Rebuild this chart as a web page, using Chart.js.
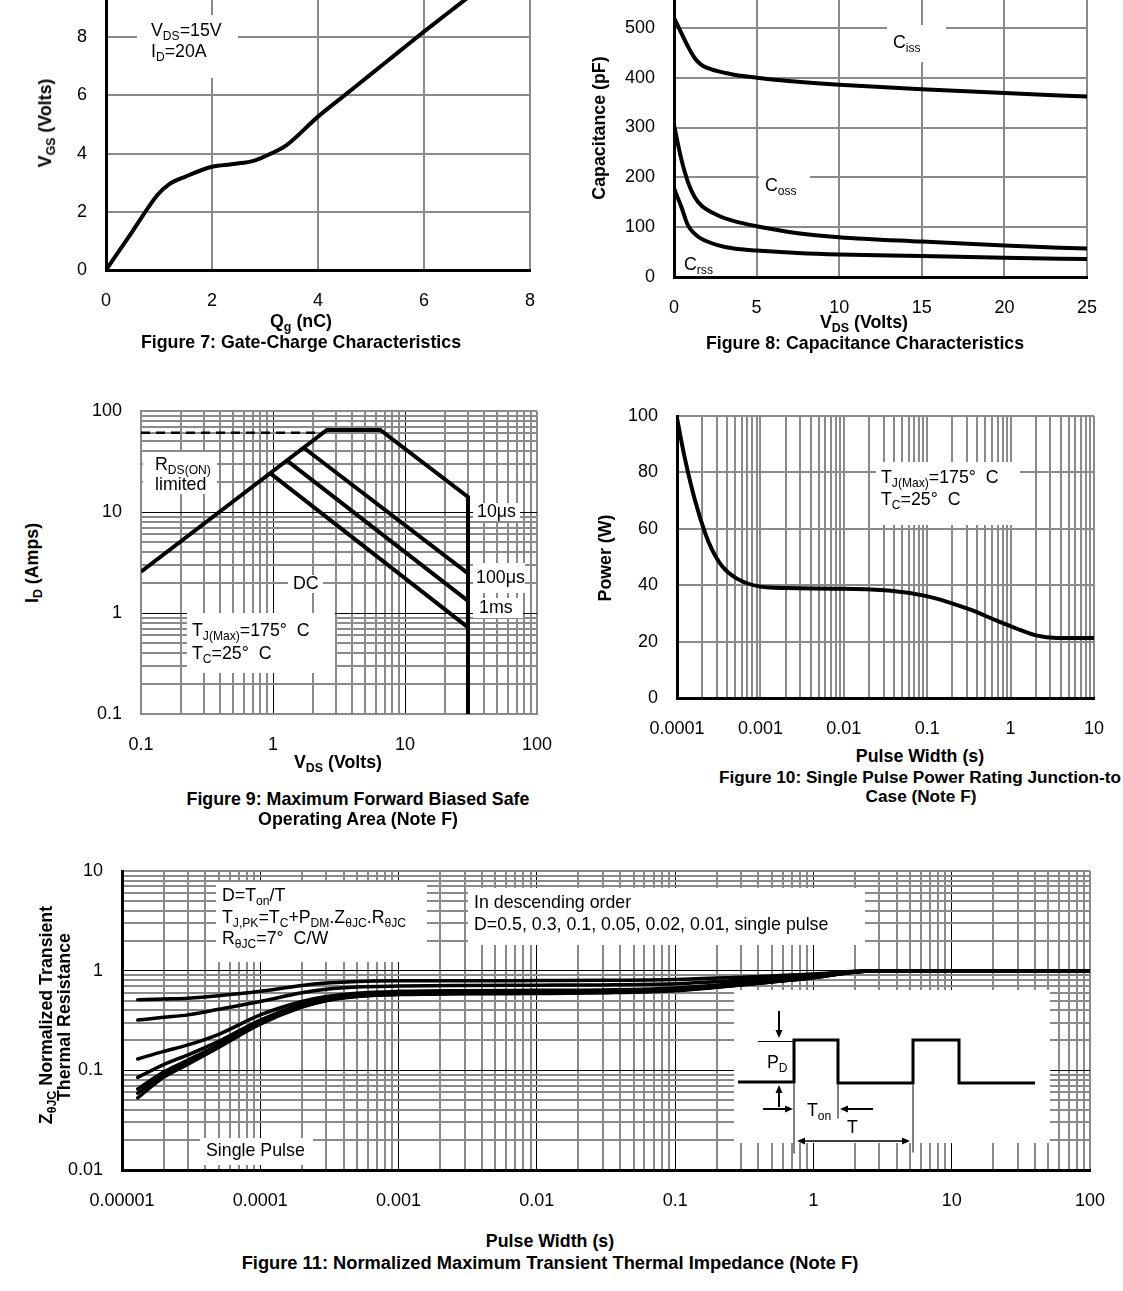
<!DOCTYPE html>
<html>
<head>
<meta charset="utf-8">
<script src="https://cdn.jsdelivr.net/npm/chart.js@4.4.1/dist/chart.umd.min.js"></script>
<style>
  body { margin: 0; background: #fff; }
  #page { position: relative; width: 1123px; height: 1291px; overflow: hidden; background: #fff;
          font-family: "Liberation Sans", Arial, Helvetica, sans-serif; color: #000; }
  canvas { position: absolute; }
  .ttl { position: absolute; transform: translate(-50%, -50%); font-weight: bold; font-size: 17.8px; white-space: nowrap; line-height: 1; }
  .rot { position: absolute; transform: translate(-50%, -50%) rotate(-90deg); font-weight: bold; font-size: 17.8px; white-space: nowrap; line-height: 1; }
  sub { font-size: 70%; line-height: 0; vertical-align: -0.3em; }
</style>
</head>
<body>
<div id="page">
  <canvas id="fig7"></canvas>
  <canvas id="fig8"></canvas>
  <canvas id="fig9"></canvas>
  <canvas id="fig10"></canvas>
  <canvas id="fig11"></canvas>

  <div class="ttl" style="left:301px;top:322px">Q<sub>g</sub> (nC)</div>
  <div class="rot" style="left:46px;top:123px">V<sub>GS</sub> (Volts)</div>
  <div class="ttl" style="left:301px;top:343px">Figure 7: Gate-Charge Characteristics</div>

  <div class="ttl" style="left:864px;top:323px">V<sub>DS</sub> (Volts)</div>
  <div class="rot" style="left:600px;top:128px">Capacitance (pF)</div>
  <div class="ttl" style="left:865px;top:344px">Figure 8: Capacitance Characteristics</div>

  <div class="ttl" style="left:338px;top:763px">V<sub>DS</sub> (Volts)</div>
  <div class="rot" style="left:33px;top:563px">I<sub>D</sub> (Amps)</div>
  <div class="ttl" style="left:358px;top:800px">Figure 9: Maximum Forward Biased Safe</div>
  <div class="ttl" style="left:358px;top:820px">Operating Area (Note F)</div>

  <div class="rot" style="left:606px;top:558px">Power (W)</div>
  <div class="ttl" style="left:920px;top:757px">Pulse Width (s)</div>
  <div class="ttl" style="left:920px;top:778px;font-size:17.2px">Figure 10: Single Pulse Power Rating Junction-to</div>
  <div class="ttl" style="left:921px;top:797px;font-size:17.2px">Case (Note F)</div>

  <div class="rot" style="left:47px;top:1015px">Z<sub>θJC</sub> Normalized Transient</div>
  <div class="rot" style="left:65px;top:1017px">Thermal Resistance</div>
  <div class="ttl" style="left:550px;top:1242px">Pulse Width (s)</div>
  <div class="ttl" style="left:550px;top:1263px;font-size:18.3px">Figure 11: Normalized Maximum Transient Thermal Impedance (Note F)</div>
</div>

<script>
// ---- data ----
// Figure 7: gate charge
const gateQg  = [0, 0.5, 0.97, 1.17, 1.5, 2.0, 2.4, 2.8, 3.1, 3.4, 4.0, 4.5, 5.0, 5.5, 6.0, 6.5, 7.0, 7.3];
const gateVgs = [0, 1.33, 2.58, 2.92, 3.21, 3.55, 3.64, 3.76, 3.99, 4.28, 5.27, 6.0, 6.73, 7.46, 8.19, 8.9, 9.6, 10];

// Figure 8: capacitance
const capVds  = [0, 0.44, 0.84, 1.24, 1.64, 2.64, 3.64, 5, 7.5, 10, 15, 20, 25];
const capCiss = [520, 490, 463, 440, 426, 413, 406, 400, 392, 386, 377, 369, 362];
const capCoss = [305, 237, 191, 161, 144, 124, 112, 102, 88, 80, 71, 63, 57];
const capCrss = [178, 141, 104, 87, 77, 64, 57, 53, 48, 45, 42, 38.5, 36];

// Figure 9: safe operating area
const soa10usVds  = [0.1, 2.56, 6.5, 30, 30];
const soa10usId   = [2.56, 65, 65, 14.1, 0.1];
const soa100usVds = [1.7, 30];
const soa100usId  = [43.5, 2.47];
const soa1msVds   = [1.27, 30];
const soa1msId    = [32.5, 1.32];
const soaDcVds    = [0.95, 30];
const soaDcId     = [24.3, 0.72];
const rdsLimVds   = [0.1, 2.4];
const rdsLimId    = [61, 61];
const soaTicks    = ['0.1', '1', '10', '100'];

// Figure 10: single pulse power
const pwrTime  = [1e-4, 1.23e-4, 1.64e-4, 2.18e-4, 2.64e-4, 3.5e-4, 5.1e-4, 1e-3, 2.1e-3, 1e-2, 3.7e-2, 9.5e-2, 0.17, 0.33, 0.65, 1.14, 2.0, 3.6, 10];
const pwrWatts = [99.2, 85.6, 70.2, 58.4, 52.5, 46.6, 42.5, 39.5, 39.0, 38.7, 38.0, 36.2, 34.2, 31.3, 27.7, 24.8, 22.2, 21.3, 21.3];
const pwrXTicks = ['0.0001', '0.001', '0.01', '0.1', '1', '10'];

// Figure 11: normalized transient thermal impedance
const zthTime   = [1.3e-5, 2e-5, 3e-5, 5e-5, 1e-4, 2e-4, 3e-4, 5e-4, 1e-3, 3e-3, 1e-2, 3e-2, 0.1, 0.3, 0.5, 1, 2, 3, 10, 100];
const zthD050   = [0.51, 0.52, 0.53, 0.56, 0.62, 0.71, 0.75, 0.78, 0.79, 0.79, 0.795, 0.80, 0.815, 0.86, 0.885, 0.925, 0.985, 1.0, 1.0, 1.0];
const zthD030   = [0.32, 0.34, 0.36, 0.41, 0.49, 0.60, 0.65, 0.685, 0.70, 0.71, 0.715, 0.72, 0.74, 0.80, 0.84, 0.895, 0.98, 1.0, 1.0, 1.0];
const zthD010   = [0.13, 0.155, 0.18, 0.23, 0.36, 0.49, 0.55, 0.595, 0.62, 0.63, 0.635, 0.64, 0.67, 0.75, 0.795, 0.865, 0.975, 1.0, 1.0, 1.0];
const zthD005   = [0.085, 0.114, 0.143, 0.195, 0.32, 0.46, 0.525, 0.575, 0.60, 0.61, 0.615, 0.62, 0.65, 0.735, 0.78, 0.86, 0.975, 1.0, 1.0, 1.0];
const zthD002   = [0.065, 0.096, 0.127, 0.18, 0.30, 0.44, 0.51, 0.56, 0.585, 0.595, 0.60, 0.61, 0.64, 0.725, 0.775, 0.855, 0.97, 1.0, 1.0, 1.0];
const zthD001   = [0.059, 0.090, 0.120, 0.175, 0.295, 0.435, 0.505, 0.555, 0.58, 0.59, 0.595, 0.605, 0.635, 0.72, 0.77, 0.85, 0.97, 1.0, 1.0, 1.0];
const zthSingle = [0.053, 0.085, 0.115, 0.17, 0.29, 0.43, 0.50, 0.55, 0.575, 0.585, 0.59, 0.60, 0.63, 0.72, 0.77, 0.85, 0.97, 1.0, 1.0, 1.0];
const zthXTicks = ['0.00001', '0.0001', '0.001', '0.01', '0.1', '1', '10', '100'];
const zthYTicks = ['0.01', '0.1', '1', '10'];

// ---- common setup ----
const GRAY = '#8a8a8a';
const FONT = '"Liberation Sans", Arial, Helvetica, sans-serif';
const TXT = 17.8;
const MARGIN = { l: 80, t: 14, r: 26, b: 46 };
Chart.defaults.font.family = FONT;
Chart.defaults.font.size = 18;
Chart.defaults.color = '#000';

function mount(id, plot) {
  var c = document.getElementById(id);
  var w = plot.r - plot.l + MARGIN.l + MARGIN.r;
  var h = plot.b - plot.t + MARGIN.t + MARGIN.b;
  c.width = w; c.height = h;
  c.style.left = (plot.l - MARGIN.l) + 'px';
  c.style.top = (plot.t - MARGIN.t) + 'px';
  c.style.width = w + 'px';
  c.style.height = h + 'px';
  return { el: c, ox: plot.l - MARGIN.l, oy: plot.t - MARGIN.t };
}

function pts(xs, ys) { return xs.map((x, i) => ({ x: x, y: ys[i] })); }

// fixed axis size, and no extra room for overhanging labels
function fixY(s) { s.width = MARGIN.l; s.paddingTop = 0; s.paddingBottom = 0; }
function fixX(s) { s.height = MARGIN.b; s.paddingLeft = 0; s.paddingRight = 0; }

// gridline positions 1..9 per decade
function logTicks(min, max) {
  var out = [];
  for (var e = Math.round(Math.log10(min)); e < Math.round(Math.log10(max)); e++) {
    for (var k = 1; k < 10; k++) out.push(Number((k * Math.pow(10, e)).toPrecision(6)));
  }
  out.push(max);
  return out;
}
function isDecade(v) { var e = Math.log10(v); return Math.abs(e - Math.round(e)) < 1e-6; }
function labelFrom(labels) {
  return function (value) {
    for (var i = 0; i < labels.length; i++) {
      var n = parseFloat(labels[i]);
      if (Math.abs(n - value) <= n * 1e-6) return labels[i];
    }
    return '';
  };
}

function linAxis(min, max, step, isY) {
  return {
    type: 'linear', min: min, max: max,
    border: { display: true, color: '#000', width: 3 },
    grid: { color: GRAY, lineWidth: 2, drawTicks: false },
    ticks: { stepSize: step, padding: isY ? 19 : 20, maxRotation: 0, autoSkip: false },
    afterFit: isY ? fixY : fixX
  };
}

function logAxis(min, max, labels, isY, majorColor, borderColor, borderWidth) {
  var major = v => majorColor && isDecade(v) && v > min * 1.0001 && v < max * 0.9999;
  return {
    type: 'logarithmic', min: min, max: max,
    border: { display: true, color: borderColor, width: borderWidth },
    grid: {
      drawTicks: false,
      color: c => major(c.tick.value) ? majorColor : GRAY,
      lineWidth: c => major(c.tick.value) ? 1 : 2
    },
    afterBuildTicks: s => { s.ticks = logTicks(min, max).map(v => ({ value: v })); },
    ticks: { padding: isY ? 19 : 20, maxRotation: 0, autoSkip: false, callback: labelFrom(labels) },
    afterFit: isY ? fixY : fixX
  };
}

function curve(data, width) {
  return { data: data, showLine: true, borderColor: '#000', backgroundColor: '#000', borderWidth: width || 4,
           pointRadius: 0, cubicInterpolationMode: 'monotone', borderCapStyle: 'round', borderJoinStyle: 'round' };
}
function segs(data, width, dash) {
  return { data: data, showLine: true, borderColor: '#000', backgroundColor: '#000', borderWidth: width,
           borderDash: dash || [], pointRadius: 0, tension: 0, borderJoinStyle: 'miter' };
}

// text with _{sub} parts, left aligned, vertically centred on y
function drawRich(ctx, str, x, y, size) {
  var parts = str.split(/_\{(.*?)\}/);
  ctx.textBaseline = 'middle';
  ctx.textAlign = 'left';
  ctx.fillStyle = '#000';
  for (var i = 0; i < parts.length; i++) {
    if (!parts[i]) continue;
    var sub = i % 2 === 1;
    ctx.font = (sub ? size * 0.68 : size) + 'px ' + FONT;
    ctx.fillText(parts[i], x, y + (sub ? size * 0.3 : 0));
    x += ctx.measureText(parts[i]).width;
  }
}

// white label boxes over the grid, text on top (page coordinates)
const notesPlugin = {
  id: 'notes',
  beforeDatasetsDraw(chart, args, o) {
    if (!o.boxes) return;
    var ctx = chart.ctx;
    ctx.save();
    ctx.fillStyle = '#fff';
    o.boxes.forEach(b => ctx.fillRect(b[0] - o.ox, b[1] - o.oy, b[2] - b[0], b[3] - b[1]));
    ctx.restore();
  },
  afterDatasetsDraw(chart, args, o) {
    if (!o.texts) return;
    var ctx = chart.ctx;
    ctx.save();
    o.texts.forEach(t => drawRich(ctx, t[0], t[1] - o.ox, t[2] - o.oy, t[3] || TXT));
    ctx.restore();
  }
};

function arrow(ctx, x0, y0, x1, y1) {
  var a = Math.atan2(y1 - y0, x1 - x0), L = 8, W = 3.5;
  ctx.beginPath(); ctx.moveTo(x0, y0); ctx.lineTo(x1 - L * Math.cos(a), y1 - L * Math.sin(a)); ctx.stroke();
  ctx.beginPath();
  ctx.moveTo(x1, y1);
  ctx.lineTo(x1 - L * Math.cos(a) + W * Math.sin(a), y1 - L * Math.sin(a) - W * Math.cos(a));
  ctx.lineTo(x1 - L * Math.cos(a) - W * Math.sin(a), y1 - L * Math.sin(a) + W * Math.cos(a));
  ctx.closePath(); ctx.fill();
}

// duty-cycle sketch inside Figure 11
const pulsePlugin = {
  id: 'pulse',
  afterDatasetsDraw(chart, args, o) {
    if (!o.at) return;
    var ctx = chart.ctx, bx = o.at[0] - o.ox, by = o.at[1] - o.oy;
    var X = v => bx + v, Y = v => by + v;
    ctx.save();
    ctx.strokeStyle = '#000'; ctx.fillStyle = '#000';
    ctx.lineWidth = 3; ctx.lineJoin = 'miter';
    ctx.beginPath();
    [[4, 92], [60, 92], [60, 50], [104, 50], [104, 93], [179, 93], [179, 50], [225, 50], [225, 93], [301, 93]]
      .forEach((p, i) => i ? ctx.lineTo(X(p[0]), Y(p[1])) : ctx.moveTo(X(p[0]), Y(p[1])));
    ctx.stroke();
    ctx.lineWidth = 1;
    [[24, 51, 60, 51], [60, 93, 60, 163], [104, 94, 104, 128], [179, 94, 179, 162]].forEach(l => {
      ctx.beginPath(); ctx.moveTo(X(l[0]), Y(l[1]) + 0.5); ctx.lineTo(X(l[2]), Y(l[3]) + 0.5); ctx.stroke();
    });
    ctx.lineWidth = 2;
    arrow(ctx, X(45), Y(21), X(45), Y(48));
    arrow(ctx, X(45), Y(117), X(45), Y(95));
    arrow(ctx, X(29), Y(119), X(59), Y(119));
    arrow(ctx, X(139), Y(119), X(106), Y(119));
    ctx.lineWidth = 1.5;
    arrow(ctx, X(118), Y(151), X(176), Y(151));
    arrow(ctx, X(118), Y(151), X(63), Y(151));
    drawRich(ctx, 'P_{D}', X(33), Y(73), TXT);
    drawRich(ctx, 'T_{on}', X(73), Y(121), TXT);
    drawRich(ctx, 'T', X(113), Y(138), TXT);
    ctx.restore();
  }
};
Chart.register(notesPlugin, pulsePlugin);

function baseOptions(scales, notes, pulse) {
  return {
    responsive: false, animation: false, devicePixelRatio: 1,
    layout: { padding: { left: 0, top: MARGIN.t, right: MARGIN.r, bottom: 0 } },
    plugins: { legend: { display: false }, tooltip: { enabled: false }, notes: notes, pulse: pulse || {} },
    scales: scales
  };
}

// ---- Figure 7 ----
(function () {
  var m = mount('fig7', { l: 106, t: -21, r: 530, b: 270 });
  new Chart(m.el, {
    type: 'scatter',
    data: { datasets: [curve(pts(gateQg, gateVgs), 4)] },
    options: baseOptions(
      { x: linAxis(0, 8, 2, false), y: linAxis(0, 10, 2, true) },
      { ox: m.ox, oy: m.oy, boxes: [[137, 15, 238, 78]],
        texts: [['V_{DS}=15V', 151, 31], ['I_{D}=20A', 151, 52]] })
  });
})();

// ---- Figure 8 ----
(function () {
  var m = mount('fig8', { l: 674, t: -22, r: 1087, b: 277 });
  new Chart(m.el, {
    type: 'scatter',
    data: { datasets: [curve(pts(capVds, capCiss), 4), curve(pts(capVds, capCoss), 4), curve(pts(capVds, capCrss), 4)] },
    options: baseOptions(
      { x: linAxis(0, 25, 5, false), y: linAxis(0, 600, 100, true) },
      { ox: m.ox, oy: m.oy, boxes: [[887, 25, 946, 62], [759, 170, 810, 200]],
        texts: [['C_{iss}', 893, 43], ['C_{oss}', 765, 186], ['C_{rss}', 684, 265]] })
  });
})();

// ---- Figure 9 ----
(function () {
  var m = mount('fig9', { l: 141, t: 411, r: 537, b: 714 });
  new Chart(m.el, {
    type: 'scatter',
    data: { datasets: [
      segs(pts(rdsLimVds, rdsLimId), 2.5, [9, 6]),
      segs(pts(soa10usVds, soa10usId), 4),
      segs(pts(soa100usVds, soa100usId), 4),
      segs(pts(soa1msVds, soa1msId), 4),
      segs(pts(soaDcVds, soaDcId), 4)
    ] },
    options: baseOptions(
      { x: logAxis(0.1, 100, soaTicks, false, '#000', GRAY, 2),
        y: logAxis(0.1, 100, soaTicks, true, '#000', GRAY, 2) },
      { ox: m.ox, oy: m.oy,
        boxes: [[143, 452, 217, 494], [473, 503, 520, 521], [473, 563, 525, 593], [473, 598, 523, 618],
                [288, 575, 323, 593], [187, 613, 335, 673]],
        texts: [['R_{DS(ON)}', 155, 465], ['limited', 155, 485], ['10μs', 477, 512], ['100μs', 476, 578],
                ['1ms', 479, 608], ['DC', 293, 584], ['T_{J(Max)}=175°  C', 192, 631], ['T_{C}=25°  C', 192, 654]] })
  });
})();

// ---- Figure 10 ----
(function () {
  var m = mount('fig10', { l: 677, t: 416, r: 1094, b: 698 });
  new Chart(m.el, {
    type: 'scatter',
    data: { datasets: [curve(pts(pwrTime, pwrWatts), 4)] },
    options: baseOptions(
      { x: logAxis(1e-4, 10, pwrXTicks, false, null, '#000', 3), y: linAxis(0, 100, 20, true) },
      { ox: m.ox, oy: m.oy, boxes: [[876, 462, 1020, 525]],
        texts: [['T_{J(Max)}=175°  C', 881, 478], ['T_{C}=25°  C', 881, 500]] })
  });
})();

// ---- Figure 11 ----
(function () {
  var m = mount('fig11', { l: 122, t: 871, r: 1090, b: 1170 });
  var series = [zthD050, zthD030, zthD010, zthD005, zthD002, zthD001, zthSingle];
  new Chart(m.el, {
    type: 'scatter',
    data: { datasets: series.map(s => curve(pts(zthTime, s), 3.5)) },
    options: baseOptions(
      { x: logAxis(1e-5, 100, zthXTicks, false, '#000', '#000', 3),
        y: logAxis(0.01, 10, zthYTicks, true, '#000', '#000', 3) },
      { ox: m.ox, oy: m.oy,
        boxes: [[216, 882, 427, 962], [468, 888, 865, 945], [200, 1138, 313, 1165], [734, 990, 1050, 1143]],
        texts: [['D=T_{on}/T', 222, 896], ['T_{J,PK}=T_{C}+P_{DM}.Z_{θJC}.R_{θJC}', 222, 918], ['R_{θJC}=7°  C/W', 222, 939],
                ['In descending order', 474, 903], ['D=0.5, 0.3, 0.1, 0.05, 0.02, 0.01, single pulse', 474, 925],
                ['Single Pulse', 206, 1151]] },
      { ox: m.ox, oy: m.oy, at: [734, 990] })
  });
})();
</script>
</body>
</html>
